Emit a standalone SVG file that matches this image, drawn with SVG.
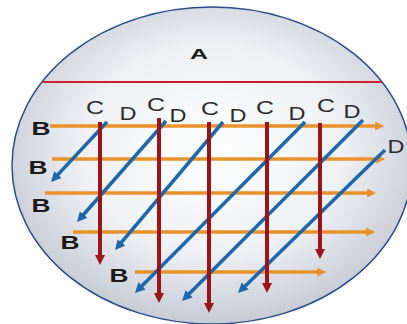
<svg xmlns="http://www.w3.org/2000/svg" width="407" height="324" viewBox="0 0 407 324">
  <defs>
    <radialGradient id="bg" cx="0.5" cy="0.45" r="0.55">
      <stop offset="0" stop-color="#ffffff"/>
      <stop offset="0.6" stop-color="#eef0f3"/>
      <stop offset="1" stop-color="#c6cbd5"/>
    </radialGradient>
    <marker id="ao" viewBox="0 0 10 10" refX="2" refY="5" markerWidth="10" markerHeight="9" markerUnits="userSpaceOnUse" orient="auto">
      <path d="M0,0 L10,5 L0,10 z" fill="#e8922c"/>
    </marker>
    <marker id="ar" viewBox="0 0 10 10" refX="2" refY="5" markerWidth="10" markerHeight="11" markerUnits="userSpaceOnUse" orient="auto">
      <path d="M0,0 L10,5 L0,10 z" fill="#9a1518"/>
    </marker>
    <marker id="ab" viewBox="0 0 10 10" refX="2" refY="5" markerWidth="10" markerHeight="11" markerUnits="userSpaceOnUse" orient="auto">
      <path d="M0,0 L10,5 L0,10 z" fill="#1d67ad"/>
    </marker>
  </defs>
  <style>
    .o { stroke: #e8922c; stroke-width: 3.5; fill: none; marker-end: url(#ao); }
    .r { stroke: #9a1518; stroke-width: 4; fill: none; marker-end: url(#ar); }
    .b { stroke: #1d67ad; stroke-width: 3.5; fill: none; marker-end: url(#ab); }
    .lc { font-family: "Liberation Sans", Arial, sans-serif; font-size: 19px; fill: #2b2b2b; text-anchor: middle; }
    .ld { font-family: "Liberation Sans", Arial, sans-serif; font-size: 19px; fill: #2b2b2b; text-anchor: middle; }
    .lb { font-family: "Liberation Sans", Arial, sans-serif; font-size: 19px; font-weight: bold; fill: #1a1a1a; text-anchor: middle; }
    .la { font-family: "Liberation Sans", Arial, sans-serif; font-size: 14px; font-weight: bold; fill: #1a1a1a; text-anchor: middle; }
  </style>
  <rect width="407" height="324" fill="#ffffff"/>
  <g id="dish">
    <ellipse cx="212" cy="165.5" rx="200" ry="158.5" fill="url(#bg)" stroke="#2d4f8a" stroke-width="1.5"/>
    <line x1="43" y1="82" x2="382" y2="82" stroke="#c8232b" stroke-width="2"/>
    <text class="la" x="199" y="59" textLength="18" lengthAdjust="spacingAndGlyphs">A</text>
  </g>
  <g id="connectors">
    <g id="rows-B">
      <line class="o" x1="50" y1="126" x2="377" y2="126"/>
      <line class="o" x1="52" y1="159" x2="378" y2="159"/>
      <line class="o" x1="45" y1="193" x2="369" y2="193"/>
      <line class="o" x1="73" y1="232" x2="368" y2="232"/>
      <line class="o" x1="135" y1="272" x2="319" y2="272"/>
    </g>
    <g id="diagonals-D">
      <line class="b" x1="107" y1="122" x2="56.5" y2="176.1"/>
      <line class="b" x1="166" y1="121" x2="82.3" y2="216"/>
      <line class="b" x1="223" y1="122" x2="120.2" y2="243.9"/>
      <line class="b" x1="305" y1="122" x2="140.6" y2="287.3"/>
      <line class="b" x1="363" y1="120" x2="187.7" y2="295.3"/>
      <line class="b" x1="385" y1="150" x2="243.7" y2="287.4"/>
    </g>
    <g id="columns-C">
      <line class="r" x1="100" y1="122" x2="100" y2="257"/>
      <line class="r" x1="159" y1="118" x2="159" y2="295"/>
      <line class="r" x1="209" y1="122" x2="209" y2="305"/>
      <line class="r" x1="267" y1="122" x2="267" y2="285"/>
      <line class="r" x1="320" y1="123" x2="320" y2="251"/>
    </g>
  </g>
  <g id="labels-C">
    <text class="lc" x="95" y="114" textLength="18" lengthAdjust="spacingAndGlyphs">C</text>
    <text class="lc" x="156" y="111" textLength="18" lengthAdjust="spacingAndGlyphs">C</text>
    <text class="lc" x="210" y="115" textLength="18" lengthAdjust="spacingAndGlyphs">C</text>
    <text class="lc" x="265" y="114" textLength="18" lengthAdjust="spacingAndGlyphs">C</text>
    <text class="lc" x="326" y="112" textLength="18" lengthAdjust="spacingAndGlyphs">C</text>
  </g>
  <g id="labels-D">
    <text class="ld" x="128" y="120" textLength="17" lengthAdjust="spacingAndGlyphs">D</text>
    <text class="ld" x="178" y="122" textLength="17" lengthAdjust="spacingAndGlyphs">D</text>
    <text class="ld" x="238" y="122" textLength="17" lengthAdjust="spacingAndGlyphs">D</text>
    <text class="ld" x="297" y="120" textLength="17" lengthAdjust="spacingAndGlyphs">D</text>
    <text class="ld" x="352" y="118" textLength="17" lengthAdjust="spacingAndGlyphs">D</text>
    <text class="ld" x="396" y="153" textLength="17" lengthAdjust="spacingAndGlyphs">D</text>
  </g>
  <g id="labels-B">
    <text class="lb" x="41" y="135" textLength="19" lengthAdjust="spacingAndGlyphs">B</text>
    <text class="lb" x="38" y="174" textLength="19" lengthAdjust="spacingAndGlyphs">B</text>
    <text class="lb" x="41" y="212" textLength="19" lengthAdjust="spacingAndGlyphs">B</text>
    <text class="lb" x="70" y="249" textLength="19" lengthAdjust="spacingAndGlyphs">B</text>
    <text class="lb" x="119" y="282" textLength="19" lengthAdjust="spacingAndGlyphs">B</text>
  </g>
</svg>
